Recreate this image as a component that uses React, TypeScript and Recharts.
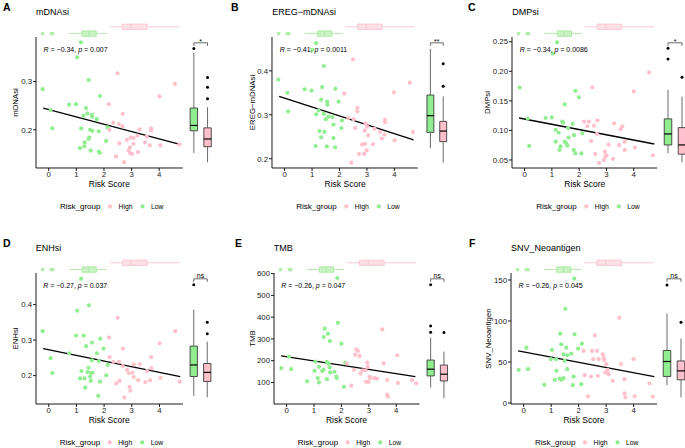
import { ReferenceArea, ReferenceLine, Scatter, ScatterChart, XAxis, YAxis } from "recharts";

const FONT = "'Liberation Sans', Arial, Helvetica, sans-serif";
const HIGH = "#FFC0CB";
const LOW = "#90EE90";
const ROWS = [0, 236];

const riskTicks = [0, 1, 2, 3, 4];
const riskDomain = [-0.46, 4.85];

// risk score per group (top marginal boxplots): min, q1, median, q3, max
const riskBoxLow = [0.74, 1.2, 1.45, 1.72, 2.1];
const riskOutLow = [-0.22, 0.1, 0.15];
const riskBoxHigh = [2.2, 2.66, 2.98, 3.56, 4.73];

// A: mDNAsi
const lowA = [[-0.22,0.284],[0.07,0.241],[0.13,0.203],[0.74,0.252],[0.99,0.253],[1.03,0.35],[1.17,0.381],[1.35,0.245],[1.4,0.234],[1.26,0.229],[1.56,0.231],[1.58,0.227],[1.45,0.303],[1.86,0.27],[1.74,0.222],[1.18,0.203],[1.5,0.2],[1.58,0.198],[1.81,0.197],[2.13,0.205],[1.3,0.174],[1.47,0.184],[1.44,0.181],[1.29,0.166],[1.13,0.162],[1.52,0.157],[1.81,0.155],[1.85,0.152],[2.08,0.177]];
const highA = [[2.49,0.317],[2.18,0.253],[2.68,0.233],[2.34,0.215],[2.54,0.212],[2.67,0.207],[2.2,0.2],[2.56,0.172],[2.44,0.145],[2.73,0.133],[2.89,0.157],[2.95,0.152],[3.02,0.15],[2.97,0.184],[3.07,0.183],[2.94,0.163],[3.07,0.171],[3.23,0.154],[3.29,0.201],[3.21,0.188],[3.49,0.174],[3.7,0.203],[3.71,0.199],[3.66,0.168],[4.01,0.269],[4.04,0.168],[4.57,0.295],[4.73,0.17],[3.55,0.186],[2.83,0.179]];
const fitA = [[-0.2,0.245],[4.75,0.17]];
const boxLowA = [0.152, 0.198, 0.209, 0.245, 0.359];
const outLowA = [0.368];
const boxHighA = [0.133, 0.165, 0.181, 0.204, 0.247];
const outHighA = [0.264, 0.288, 0.308];

// B: EREG-mDNAsi
const lowB = [[-0.23,0.38],[0.1,0.35],[0.13,0.308],[0.73,0.358],[0.98,0.355],[1.01,0.448],[1.15,0.463],[1.43,0.411],[1.37,0.363],[1.33,0.334],[1.55,0.33],[1.56,0.323],[1.85,0.359],[1.97,0.33],[1.15,0.301],[1.24,0.31],[1.43,0.302],[1.5,0.29],[1.6,0.296],[1.74,0.295],[1.78,0.278],[2.09,0.287],[2.07,0.27],[1.27,0.263],[1.45,0.261],[1.33,0.249],[1.78,0.247],[1.13,0.229],[1.54,0.228],[1.84,0.226]];
const highB = [[2.49,0.426],[2.17,0.348],[2.65,0.316],[2.65,0.308],[2.32,0.293],[2.52,0.29],[2.57,0.27],[2.43,0.191],[2.71,0.211],[2.9,0.211],[2.83,0.232],[2.93,0.234],[2.99,0.219],[2.95,0.28],[3.01,0.273],[2.92,0.264],[3.05,0.253],[3.22,0.233],[3.28,0.268],[3.48,0.261],[3.54,0.246],[3.66,0.289],[3.66,0.283],[3.64,0.255],[3.98,0.351],[4.01,0.242],[4.56,0.373],[4.68,0.261]];
const fitB = [[-0.2,0.342],[4.7,0.243]];
const boxLowB = [0.224, 0.26, 0.298, 0.345, 0.45];
const outLowB: number[] = [];
const boxHighB = [0.191, 0.239, 0.263, 0.285, 0.342];
const outHighB = [0.365, 0.416];

// C: DMPsi
const lowC = [[-0.18,0.1726],[0.12,0.12],[0.17,0.0737],[0.77,0.121],[1.0,0.122],[1.03,0.23],[1.19,0.249],[1.47,0.144],[1.38,0.115],[1.41,0.113],[1.86,0.167],[1.99,0.156],[1.14,0.101],[1.25,0.096],[1.59,0.104],[1.76,0.111],[1.81,0.092],[2.12,0.095],[1.14,0.081],[1.47,0.081],[1.53,0.078],[1.57,0.074],[1.61,0.088],[1.32,0.073],[1.28,0.067],[1.8,0.067],[1.86,0.061],[2.08,0.061]];
const highC = [[2.48,0.173],[2.18,0.115],[2.36,0.115],[2.67,0.117],[2.54,0.108],[2.3,0.107],[2.65,0.094],[2.44,0.082],[2.59,0.06],[2.73,0.045],[2.91,0.05],[2.96,0.056],[3.0,0.058],[2.94,0.064],[3.08,0.076],[3.24,0.052],[3.28,0.112],[3.46,0.075],[3.52,0.102],[3.58,0.107],[3.67,0.067],[3.67,0.081],[4.0,0.166],[4.04,0.071],[4.56,0.198],[4.7,0.058]];
const fitC = [[-0.2,0.121],[4.75,0.077]];
const boxLowC = [0.0614, 0.0754, 0.094, 0.1195, 0.1686];
const outLowC = [0.2207, 0.239];
const boxHighC = [0.046, 0.0597, 0.0754, 0.1047, 0.157];
const outHighC = [0.19];

// D: ENHsi
const lowD = [[-0.22,0.325],[0.07,0.249],[0.13,0.207],[0.74,0.263],[0.99,0.313],[1.03,0.383],[1.17,0.473],[1.26,0.313],[1.45,0.398],[1.35,0.283],[1.56,0.293],[1.86,0.304],[1.98,0.276],[1.74,0.263],[1.44,0.222],[1.56,0.243],[1.81,0.241],[2.13,0.23],[1.18,0.213],[1.4,0.21],[1.52,0.208],[1.58,0.208],[1.13,0.192],[1.29,0.192],[1.5,0.197],[1.52,0.185],[1.85,0.183],[2.08,0.201],[1.32,0.166],[1.79,0.143]];
const highD = [[2.49,0.363],[2.18,0.307],[2.68,0.276],[2.34,0.239],[2.54,0.239],[2.2,0.252],[2.67,0.227],[2.56,0.185],[2.44,0.178],[2.73,0.138],[2.89,0.207],[2.92,0.168],[2.95,0.157],[3.02,0.208],[3.07,0.232],[3.29,0.232],[3.23,0.187],[3.07,0.196],[3.49,0.182],[3.55,0.213],[3.7,0.252],[3.71,0.221],[3.66,0.187],[4.01,0.291],[4.04,0.194],[4.57,0.325],[4.73,0.183],[2.83,0.216]];
const fitD = [[-0.2,0.276],[4.75,0.197]];
const boxLowD = [0.143, 0.1975, 0.23, 0.283, 0.386];
const outLowD = [0.456];
const boxHighD = [0.139, 0.1835, 0.209, 0.234, 0.2955];
const outHighD = [0.318, 0.35];

// E: TMB
const lowE = [[-0.19,166],[0.09,219],[0.17,161],[0.75,105],[1.02,153],[1.05,196],[1.18,172],[1.14,120],[1.18,100],[1.35,309],[1.39,347],[1.51,324],[1.58,290],[1.87,374],[1.85,580],[2.0,278],[1.3,153],[1.35,158],[1.47,195],[1.53,187],[1.57,169],[1.47,115],[1.75,149],[1.82,127],[1.83,120],[1.59,146],[2.09,80],[2.14,191]];
const highE = [[2.2,187],[2.36,85],[2.46,158],[2.54,252],[2.6,245],[2.5,227],[2.66,222],[2.7,141],[2.78,156],[2.88,156],[2.94,191],[2.96,172],[2.9,103],[2.99,103],[3.06,120],[3.03,126],[3.21,120],[3.3,117],[3.49,344],[3.54,188],[3.67,111],[3.7,35],[3.67,44],[4.04,225],[4.06,98],[4.58,111],[4.73,96]];
const fitE = [[-0.2,222],[4.7,127]];
const boxLowE = [77, 130, 161, 203, 306];
const outLowE = [331, 359, 549];
const boxHighE = [28, 107, 138, 180, 242];
const outHighE = [329];

// F: SNV_Neoantigen
const lowF = [[-0.18,40.4],[0.1,67.5],[0.16,41.2],[0.75,22.2],[1.03,64.7],[0.99,53.4],[1.18,53.4],[1.19,39.2],[1.13,28.3],[1.33,84.5],[1.37,71.6],[1.52,114.8],[1.55,67.5],[1.45,59.4],[1.58,58.2],[1.49,51.3],[1.58,41.2],[1.31,29.9],[1.37,28.3],[1.45,30.3],[1.73,60.2],[1.84,151.6],[1.85,83.7],[1.82,32.3],[1.79,21.8],[1.98,66.3],[2.1,23],[2.12,72.4]];
const highF = [[2.18,63.5],[2.22,34],[2.34,8.1],[2.45,32.3],[2.49,63.5],[2.53,53.4],[2.59,82.5],[2.67,63.5],[2.7,33.1],[2.73,53.4],[2.88,59.4],[2.91,55.4],[2.93,52.5],[2.97,37.2],[3.0,47.3],[3.05,40.4],[3.09,35.2],[3.24,27.1],[3.48,103.9],[3.54,47.3],[3.67,29.1],[3.67,11.7],[3.7,6.9],[4.0,53.4],[4.04,8.1],[4.58,23.8],[4.7,7.7]];
const fitF = [[-0.2,63.5],[4.75,32.3]];
const boxLowF = [21.8, 32.4, 50.6, 64, 109];
const outLowF = [144];
const boxHighF = [6.9, 28.3, 39.2, 51.3, 78.5];
const outHighF = [98.6];

const panels = [
  { letter: "A", title: "mDNAsi", low: lowA, high: highA, fit: fitA, r: "−0.34", p: "0.007", sig: "*",
    ticks: [0.2, 0.3], dom: [0.121, 0.392], digits: 1,
    boxLow: boxLowA, outLow: outLowA, boxHigh: boxHighA, outHigh: outHighA,
    lay: { row: 0, plotL: 36, plotR: 182.7, greenC: 194, pinkC: 207.7, letterX: 3, yLabX: 15 } },
  { letter: "B", title: "EREG−mDNAsi", low: lowB, high: highB, fit: fitB, r: "−0.41", p: "0.0011", sig: "**",
    ticks: [0.2, 0.3, 0.4], dom: [0.179, 0.477], digits: 1,
    boxLow: boxLowB, outLow: outLowB, boxHigh: boxHighB, outHigh: outHighB,
    lay: { row: 0, plotL: 272.3, plotR: 418, greenC: 430.5, pinkC: 443.3, letterX: 231, yLabX: 252 } },
  { letter: "C", title: "DMPsi", low: lowC, high: highC, fit: fitC, r: "−0.34", p: "0.0086", sig: "*",
    ticks: [0.05, 0.1, 0.15, 0.2, 0.25], dom: [0.0364, 0.258], digits: 2,
    boxLow: boxLowC, outLow: outLowC, boxHigh: boxHighC, outHigh: outHighC,
    lay: { row: 0, plotL: 512.3, plotR: 657.3, greenC: 667.5, pinkC: 681.5, letterX: 468, yLabX: 487.7 } },
  { letter: "D", title: "ENHsi", low: lowD, high: highD, fit: fitD, r: "−0.27", p: "0.037", sig: "ns",
    ticks: [0.2, 0.3, 0.4], dom: [0.12, 0.489], digits: 1,
    boxLow: boxLowD, outLow: outLowD, boxHigh: boxHighD, outHigh: outHighD,
    lay: { row: 1, plotL: 35.7, plotR: 182.7, greenC: 193.8, pinkC: 207.3, letterX: 3, yLabX: 15 } },
  { letter: "E", title: "TMB", low: lowE, high: highE, fit: fitE, r: "−0.26", p: "0.047", sig: "ns",
    ticks: [100, 200, 300, 400, 500, 600], dom: [1, 603], digits: 0,
    boxLow: boxLowE, outLow: outLowE, boxHigh: boxHighE, outHigh: outHighE,
    lay: { row: 1, plotL: 273.7, plotR: 419.2, greenC: 431, pinkC: 444.3, letterX: 235, yLabX: 252 } },
  { letter: "F", title: "SNV_Neoantigen", low: lowF, high: highF, fit: fitF, r: "−0.26", p: "0.045", sig: "ns",
    ticks: [0, 50, 100, 150], dom: [-1.2, 158.5], digits: 0,
    boxLow: boxLowF, outLow: outLowF, boxHigh: boxHighF, outHigh: outHighF,
    lay: { row: 1, plotL: 511, plotR: 657, greenC: 667, pinkC: 681, letterX: 469, yLabX: 488.3 } },
];

const PLOT_T = 37;
const PLOT_B = 168;
const toXY = (pts: number[][]) => pts.map(([x, y]) => ({ x, y }));
const dot = (fill: string, r = 2.1) => (props: any) =>
  <circle cx={props.cx} cy={props.cy} r={r} fill={fill} />;

function MainPlot({ c }: any) {
  const { lay } = c;
  const top = ROWS[lay.row] + PLOT_T - 5;
  const left = lay.plotL - 30;
  return (
    <div style={{ position: "absolute", left, top }}>
      <ScatterChart width={lay.plotR - left + 2} height={PLOT_B - PLOT_T + 5 + 24}
        margin={{ top: 5, right: 2, bottom: 0, left: 0 }}>
        <XAxis type="number" dataKey="x" domain={riskDomain} ticks={riskTicks} interval={0}
          allowDataOverflow height={24} tickSize={3} tickMargin={0}
          axisLine={{ stroke: "#000", strokeWidth: 0.9 }} tickLine={{ stroke: "#000", strokeWidth: 0.9 }}
          tick={{ fontSize: 7.8, fill: "#1a1a1a", fontFamily: FONT }} />
        <YAxis type="number" dataKey="y" domain={c.dom} ticks={c.ticks} interval={0}
          allowDataOverflow width={30} tickSize={3} tickMargin={1}
          tickFormatter={(v: number) => v.toFixed(c.digits)}
          axisLine={{ stroke: "#000", strokeWidth: 0.9 }} tickLine={{ stroke: "#000", strokeWidth: 0.9 }}
          tick={{ fontSize: 7.8, fill: "#1a1a1a", fontFamily: FONT }} />
        <Scatter data={toXY(c.low)} shape={dot(LOW)} isAnimationActive={false} />
        <Scatter data={toXY(c.high)} shape={dot(HIGH)} isAnimationActive={false} />
        <ReferenceLine segment={toXY(c.fit)} stroke="#000" strokeWidth={1.3} ifOverflow="visible" />
      </ScatterChart>
    </div>
  );
}

function hBox(key: string, yc: number, s: number[], fill: string, stroke: string) {
  const [mn, q1, md, q3, mx] = s;
  const hh = 0.39;
  return [
    <ReferenceLine key={key + "w1"} segment={[{ x: mn, y: yc }, { x: q1, y: yc }]} stroke={stroke} strokeWidth={0.9} ifOverflow="visible" />,
    <ReferenceLine key={key + "w2"} segment={[{ x: q3, y: yc }, { x: mx, y: yc }]} stroke={stroke} strokeWidth={0.9} ifOverflow="visible" />,
    <ReferenceArea key={key + "b"} x1={q1} x2={q3} y1={yc - hh} y2={yc + hh} fill={fill} fillOpacity={1} stroke={stroke} strokeWidth={0.9} ifOverflow="visible" />,
    <ReferenceLine key={key + "m"} segment={[{ x: md, y: yc - hh }, { x: md, y: yc + hh }]} stroke={stroke} strokeWidth={1} ifOverflow="visible" />,
  ];
}

function vBox(key: string, xc: number, s: number[], fill: string) {
  const [mn, q1, md, q3, mx] = s;
  const hw = 0.27;
  return [
    <ReferenceLine key={key + "w1"} segment={[{ x: xc, y: mn }, { x: xc, y: q1 }]} stroke="#5a5a5a" strokeWidth={0.9} ifOverflow="visible" />,
    <ReferenceLine key={key + "w2"} segment={[{ x: xc, y: q3 }, { x: xc, y: mx }]} stroke="#5a5a5a" strokeWidth={0.9} ifOverflow="visible" />,
    <ReferenceArea key={key + "b"} x1={xc - hw} x2={xc + hw} y1={q1} y2={q3} fill={fill} fillOpacity={1} stroke="#3a3a3a" strokeWidth={0.9} ifOverflow="visible" />,
    <ReferenceLine key={key + "m"} segment={[{ x: xc - hw, y: md }, { x: xc + hw, y: md }]} stroke="#000" strokeWidth={1.2} ifOverflow="visible" />,
  ];
}

function TopBoxes({ c }: any) {
  const { lay } = c;
  return (
    <div style={{ position: "absolute", left: lay.plotL, top: ROWS[lay.row] + 22 }}>
      <ScatterChart width={lay.plotR - lay.plotL} height={15} margin={{ top: 0, right: 0, bottom: 0, left: 0 }}>
        <XAxis type="number" dataKey="x" domain={riskDomain} allowDataOverflow hide />
        <YAxis type="number" dataKey="y" domain={[0, 2.2]} allowDataOverflow hide />
        {hBox("lo", 0.5, riskBoxLow, "#c9f3c3", "#a9e9a1")}
        {hBox("hi", 1.5, riskBoxHigh, "#fde0e6", "#f8c6d0")}
        <Scatter data={riskOutLow.map((x) => ({ x, y: 0.5 }))} shape={dot("#b4ecac", 1.9)} isAnimationActive={false} />
      </ScatterChart>
    </div>
  );
}

function SideBoxes({ c }: any) {
  const { lay, dom } = c;
  const unit = lay.pinkC - lay.greenC;
  const pad = 12;
  const h = PLOT_B - PLOT_T;
  const perPx = (dom[1] - dom[0]) / h;
  const yb = dom[1] - 5.8 * perPx;
  const yd = yb - 3 * perPx;
  return (
    <div style={{ position: "absolute", left: lay.greenC - unit * 0.5, top: ROWS[lay.row] + PLOT_T - pad }}>
      <ScatterChart width={unit * 2} height={h + pad} margin={{ top: pad, right: 0, bottom: 0, left: 0 }}>
        <XAxis type="number" dataKey="x" domain={[0, 2]} allowDataOverflow hide />
        <YAxis type="number" dataKey="y" domain={dom} allowDataOverflow hide />
        {vBox("lo", 0.5, c.boxLow, LOW)}
        {vBox("hi", 1.5, c.boxHigh, HIGH)}
        <Scatter data={c.outLow.map((y: number) => ({ x: 0.5, y }))} shape={dot("#000", 1.5)} isAnimationActive={false} />
        <Scatter data={c.outHigh.map((y: number) => ({ x: 1.5, y }))} shape={dot("#000", 1.5)} isAnimationActive={false} />
        <ReferenceLine segment={[{ x: 0.5, y: yb }, { x: 1.5, y: yb }]} stroke="#444" strokeWidth={0.8} ifOverflow="visible"
          label={{ value: c.sig, position: "top", offset: c.sig === "ns" ? 1 : -1, fontSize: 7, fill: "#000", fontFamily: FONT }} />
        <ReferenceLine segment={[{ x: 0.5, y: yb }, { x: 0.5, y: yd }]} stroke="#444" strokeWidth={0.8} ifOverflow="visible" />
        <ReferenceLine segment={[{ x: 1.5, y: yb }, { x: 1.5, y: yd }]} stroke="#444" strokeWidth={0.8} ifOverflow="visible" />
      </ScatterChart>
    </div>
  );
}

function Texts() {
  return (
    <svg width={685} height={448} style={{ position: "absolute", left: 0, top: 0, pointerEvents: "none" }}
      fontFamily={FONT}>
      {panels.map((c) => {
        const { lay } = c;
        const t = ROWS[lay.row];
        const mid = t + (PLOT_T + PLOT_B) / 2;
        const lb = t + 209;
        return (
          <g key={c.letter}>
            <text x={lay.letterX} y={t + 10.6} fontSize={10.5} fontWeight="bold" fill="#000">{c.letter}</text>
            <text x={lay.plotL} y={t + 15} fontSize={9} fill="#000">{c.title}</text>
            <text x={lay.plotL + 7.5} y={t + 51.5} fontSize={7} fill="#000">
              <tspan fontStyle="italic">R</tspan>{` = ${c.r}, `}<tspan fontStyle="italic">p</tspan>{` = ${c.p}`}
            </text>
            <text x={lay.yLabX} y={mid} fontSize={7.8} fill="#000" textAnchor="middle" dominantBaseline="central"
              transform={`rotate(-90 ${lay.yLabX} ${mid})`}>{c.title}</text>
            <text x={(lay.plotL + lay.plotR) / 2} y={t + PLOT_B + 18.5} fontSize={8.5} fill="#000" textAnchor="middle">Risk Score</text>
            <text x={lay.plotL + 24} y={lb} fontSize={8} fill="#000">Risk_group</text>
            <circle cx={lay.plotL + 74} cy={lb - 2.6} r={2.1} fill={HIGH} />
            <text x={lay.plotL + 82.5} y={lb} fontSize={6.8} fill="#000">High</text>
            <circle cx={lay.plotL + 106.5} cy={lb - 2.6} r={2.1} fill={LOW} />
            <text x={lay.plotL + 115} y={lb} fontSize={6.8} fill="#000">Low</text>
          </g>
        );
      })}
    </svg>
  );
}

export default function App() {
  return (
    <div style={{ position: "absolute", left: 0, top: 0, width: 685, height: 448, background: "#fff", overflow: "hidden" }}>
      {panels.map((c) => (
        <div key={c.letter}>
          <MainPlot c={c} />
          <TopBoxes c={c} />
          <SideBoxes c={c} />
        </div>
      ))}
      <Texts />
    </div>
  );
}
